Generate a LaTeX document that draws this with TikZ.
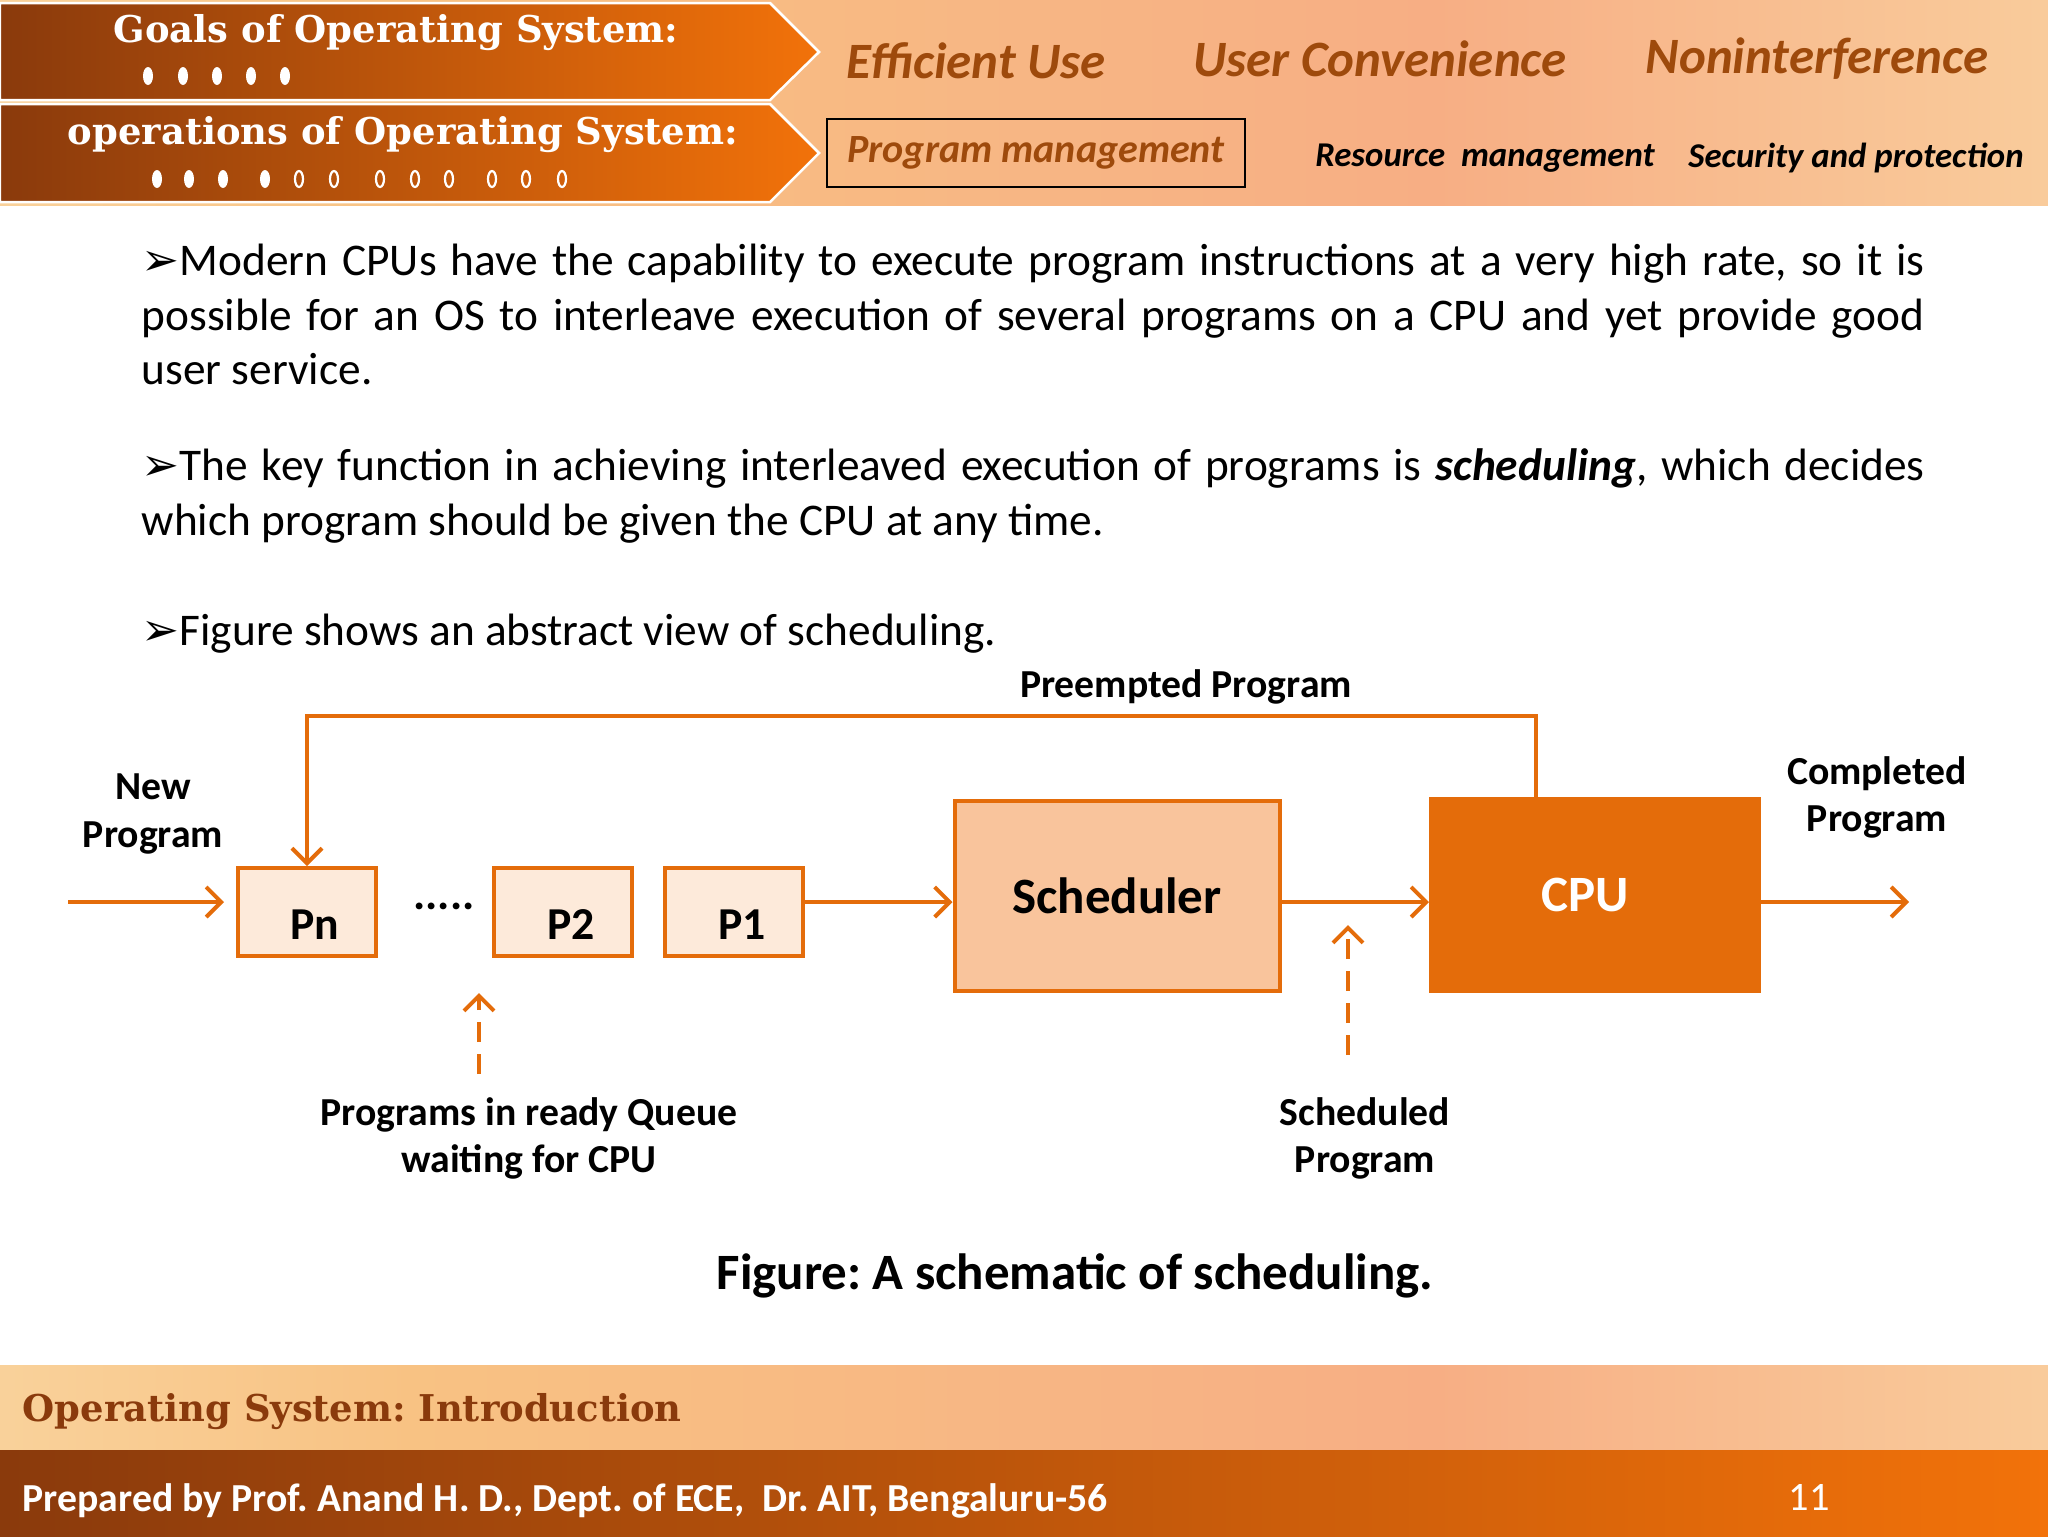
\documentclass[tikz,border=0pt]{standalone}
\usepackage{fontspec}
\setmainfont{Carlito}
\newfontfamily\slabfont{DejaVu Serif}
\newfontfamily\symfont{DejaVu Sans}
\usetikzlibrary{arrows.meta,positioning,calc}
\usepackage{xcolor}
\frenchspacing

\definecolor{orng}{HTML}{E46C0A}
\definecolor{qfill}{HTML}{FDEADA}
\definecolor{sfill}{HTML}{F9C49C}
\definecolor{hdark}{HTML}{8A3A0C}
\definecolor{hbright}{HTML}{F2720A}
\definecolor{hbrown}{HTML}{9E4A0C}
\definecolor{pinkw}{HTML}{FCE6E6}
\definecolor{creamy}{HTML}{FAD9A6}
\definecolor{peachy}{HTML}{F8C283}
\definecolor{salmony}{HTML}{F7AE84}
\pgfdeclarehorizontalshading{peachband}{100bp}{color(0bp)=(pinkw); color(20bp)=(creamy); color(35bp)=(peachy); color(60bp)=(salmony); color(82bp)=(creamy); color(100bp)=(pinkw)}

\begin{document}
\begin{tikzpicture}[x=0.1mm,y=-0.1mm,
  qbox/.style={draw=orng,line width=0.4mm,fill=qfill,minimum width=13.8mm,minimum height=8.8mm,font=\bfseries\fontsize{13}{15}\selectfont},
  bigbox/.style={draw=orng,line width=0.4mm,minimum width=32.5mm,minimum height=19mm,font=\bfseries\fontsize{14.5}{17}\selectfont},
  flow/.style={draw=orng,line width=0.4mm,-{Straight Barb[length=1.5mm,width=3mm]}},
  lbl/.style={font=\bfseries\fontsize{11.3}{13.4}\selectfont,align=center},
  para/.style={anchor=north west,inner sep=0pt,text width=178.3mm,align=justify,font=\fontsize{12.9}{15.6}\selectfont},
  goal/.style={text=hbrown,font=\bfseries\itshape\fontsize{14.5}{17}\selectfont},
  oper/.style={font=\bfseries\itshape\fontsize{9.9}{12}\selectfont},
  slab/.style={font=\slabfont\bfseries\fontsize{10.5}{12}\selectfont}
]
  \useasboundingbox (0,0) rectangle (2048,1536);

  % header band
  \fill[shading=peachband] (0,0) rectangle (2048,205);
  \draw[white,line width=0.25mm,left color=hdark,right color=hbright] (0,3) -- (770,3) -- (819,52) -- (770,100) -- (0,100) -- cycle;
  \draw[white,line width=0.25mm,left color=hdark,right color=hbright] (0,104) -- (770,104) -- (819,153) -- (770,202) -- (0,202) -- cycle;
  \node[slab,text=white] (goals) at (396,33) {Goals of Operating System:};
  \node[slab,text=white] (opers) at (403,135) {operations of Operating System:};
  \foreach \x in {148,183,217,251,285}
    \fill[white] (\x,76) ellipse (5 and 9);
  \foreach \x in {157,189,223,265}
    \fill[white] (\x,179) ellipse (5 and 9);
  \foreach \x in {299,334,380,415,449,492,526,562}
    \draw[white,line width=0.22mm] (\x,179) ellipse (4 and 8);

  \node[goal] (effuse) at (976,61) {Efficient Use};
  \node[goal] (usrconv) at (1380,59) {User Convenience};
  \node[goal] (nonint) at (1817,59) {Noninterference};
  \node[goal,draw=black,line width=0.2mm,minimum width=41.8mm,minimum height=6.8mm,font=\bfseries\itshape\fontsize{11.4}{13}\selectfont] (progmgmt) at (1036,153) {Program management};
  \node[oper] (resmgmt) at (1485,158) {Resource\ \ management};
  \node[oper] (secprot) at (1856,158) {Security and protection};

  % body text
  \node[para] (para1) at (141,243) {{\symfont ➢}Modern CPUs have the capability to execute program instructions at a very high rate, so it is\linebreak possible for an OS to interleave execution of several programs on a CPU and yet provide good\linebreak user service.};
  \node[para] (para2) at (141,448) {{\symfont ➢}The key function in achieving interleaved execution of programs is \textbf{\textit{scheduling}}, which decides\linebreak which program should be given the CPU at any time.};
  \node[para] (para3) at (141,613) {{\symfont ➢}Figure shows an abstract view of scheduling.};

  % scheduling diagram
  \node[qbox] (pn) at (307,912) {\raisebox{-2.7mm}[0pt][0pt]{\hspace*{1.6mm}Pn}};
  \node[font=\bfseries\fontsize{13}{15}\selectfont] (dots) at (444,906) {.....};
  \node[qbox] (p2) at (563,912) {\raisebox{-2.7mm}[0pt][0pt]{\hspace*{1.6mm}P2}};
  \node[qbox] (p1) at (734,912) {\raisebox{-2.7mm}[0pt][0pt]{\hspace*{1.6mm}P1}};
  \node[bigbox,fill=sfill] (sched) at (1117,896) {Scheduler};
  \node[bigbox,fill=orng,text=white,minimum width=32.8mm,minimum height=19.2mm,draw=orng] (cpu) at (1595,895) {\hspace*{-2mm}CPU};

  \node[lbl] (newprog) at (153,814) {New\\Program};
  \node[lbl] (preempt) at (1186,687) {Preempted Program};
  \node[lbl] (complete) at (1877,797) {Completed\\Program};
  \node[lbl] (schedprog) at (1365,1138) {Scheduled\\Program};
  \node[lbl] (readyq) at (529,1138) {Programs in ready Queue\\waiting for CPU};
  \node[font=\bfseries\fontsize{14.5}{18}\selectfont] (caption) at (1075,1276) {Figure: A schematic of scheduling.};

  \coordinate (newin) at (68,902);
  \coordinate (outend) at (1909,902);
  \coordinate (fbtop) at (1536,716);
  \coordinate (qtail) at (479,1074);
  \coordinate (qhead) at (479,993);
  \coordinate (stail) at (1348,1055);
  \coordinate (shead) at (1348,925);

  \draw[flow,shorten >=1.2mm] (newin) -- (newin -| pn.west);
  \draw[flow] ([yshift=1mm]p1.east) -- ([yshift=1mm]p1.east -| sched.west);
  \draw[flow] ([yshift=-0.6mm]sched.east) -- ([yshift=-0.6mm]sched.east -| cpu.west);
  \draw[flow] (cpu.east |- outend) -- (outend);
  \draw[flow] (cpu.north -| fbtop) |- (fbtop) -| (pn.north);
  \draw[flow,dashed,dash pattern=on 2mm off 1.2mm] (qtail) -- (qhead);
  \draw[flow,dashed,dash pattern=on 2mm off 1.2mm] (stail) -- (shead);

  % footer
  \fill[shading=peachband] (0,1365) rectangle (2048,1450);
  \fill[left color=hdark,right color=hbright] (0,1450) rectangle (2048,1536);
  \node[slab,text=hdark,anchor=west,inner sep=0pt] (ostitle) at (22,1412) {Operating System: Introduction};
  \node[anchor=west,inner sep=0pt,text=white,font=\bfseries\fontsize{11.3}{14}\selectfont] (prepby) at (22,1501) {Prepared by Prof. Anand H. D., Dept. of ECE,\ \ Dr. AIT, Bengaluru-56};
  \node[text=white,font=\fontsize{11.5}{14}\selectfont] (pageno) at (1809,1497) {11};
\end{tikzpicture}
\end{document}
